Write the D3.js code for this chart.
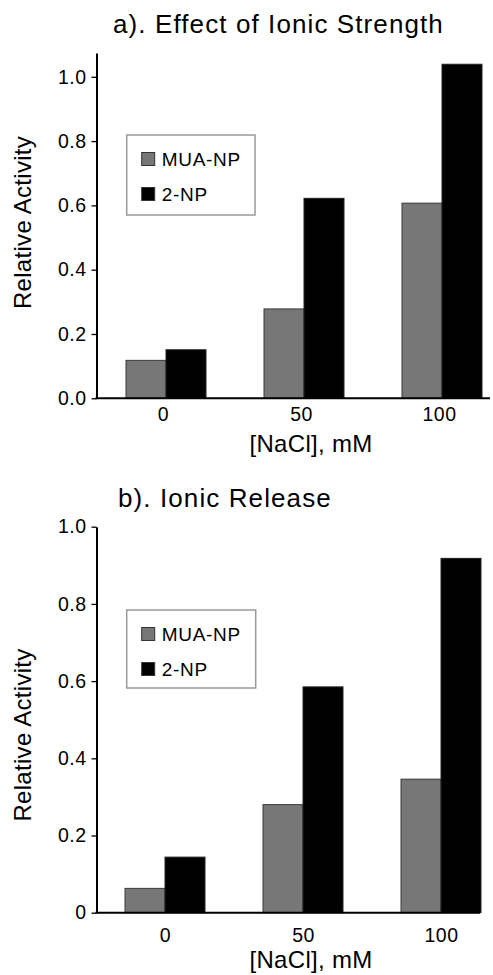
<!DOCTYPE html>
<html>
<head>
<meta charset="utf-8">
<style>
    body { margin: 0; background: #fff; }
    svg { display: block; font-family: "Liberation Sans", Arial, Helvetica, sans-serif; }
    .tick text { font-size: 19.5px; letter-spacing: 0.5px; fill: #000; }
</style>
</head>
<body>
<svg id="chart"></svg>
<script src="https://cdn.jsdelivr.net/npm/d3@7"></script>
<script>
    "use strict"
    const width = 493;
    const height = 975;

    // data
    const categories = ["0", "50", "100"];
    const seriesNames = ["MUA-NP", "2-NP"];
    const seriesColors = ["#777777", "#000000"];
    const muaStrength = [0.118, 0.278, 0.607];
    const twoStrength = [0.151, 0.622, 1.039];
    const muaRelease = [0.063, 0.28, 0.346];
    const twoRelease = [0.144, 0.585, 0.918];
    const yTickValues = [0, 0.2, 0.4, 0.6, 0.8, 1.0];
    const yTickLabelsA = ["0.0", "0.2", "0.4", "0.6", "0.8", "1.0"];
    const yTickLabelsB = ["0", "0.2", "0.4", "0.6", "0.8", "1.0"];
    const titles = ["a). Effect of Ionic Strength", "b). Ionic Release"];
    const xTitle = "[NaCl], mM";
    const yTitle = "Relative Activity";

    const svg = d3.select("#chart")
        .attr("width", width)
        .attr("height", height);

    const panels = [
        {
            title: titles[0], mua: muaStrength, two: twoStrength, labels: yTickLabelsA,
            yMax: 1.074, yRange: [398.3, 53], xRange: [166, 442], axisX: 96.5, axisEnd: 490,
            titleX: 113, titleY: 33, xTickY: 420.7, xTickDx: -3, xLabelY: 452,
            yLabelY: 222.5, legend: { x: 126.7, y: 135, w: 128.3, h: 80 }
        },
        {
            title: titles[1], mua: muaRelease, two: twoRelease, labels: yTickLabelsB,
            yMax: 1.0, yRange: [912.7, 526.7], xRange: [165, 441], axisX: 96.5, axisEnd: 480,
            titleX: 118, titleY: 507, xTickY: 941.7, xTickDx: 0, xLabelY: 968,
            yLabelY: 735, legend: { x: 126.7, y: 610, w: 129, h: 78 }
        }
    ];

    panels.forEach(drawPanel);

    function drawPanel(p) {
        const g = svg.append("g");

        const x = d3.scalePoint()
            .domain(categories)
            .range(p.xRange);

        const xSub = d3.scaleBand()
            .domain(seriesNames)
            .range([-40, 40]);

        const y = d3.scaleLinear()
            .domain([0, p.yMax])
            .range(p.yRange);

        const rows = categories.map((c, i) => ({ cat: c, values: [p.mua[i], p.two[i]] }));

        // bars
        const groups = g.selectAll(".group")
            .data(rows)
            .enter().append("g")
            .attr("class", "group")
            .attr("transform", d => `translate(${x(d.cat)},0)`);

        groups.selectAll("rect")
            .data(d => d.values.map((v, i) => ({ name: seriesNames[i], value: v, i })))
            .enter().append("rect")
            .attr("x", d => xSub(d.name))
            .attr("width", xSub.bandwidth())
            .attr("y", d => y(d.value))
            .attr("height", d => y(0) - y(d.value))
            .attr("fill", d => seriesColors[d.i])
            .attr("stroke", d => d.i === 0 ? "#3a3a3a" : "#222")
            .attr("stroke-width", 1);

        // y axis
        const yAxis = d3.axisLeft(y)
            .tickValues(yTickValues)
            .tickFormat((d, i) => p.labels[i])
            .tickSize(5)
            .tickSizeOuter(0)
            .tickPadding(5);

        const ya = g.append("g")
            .attr("transform", `translate(${p.axisX},0)`)
            .call(yAxis);
        ya.select(".domain").attr("stroke-width", 2);
        ya.selectAll(".tick line").attr("stroke-width", 1.3);

        // x axis: baseline plus category labels, no tick marks
        g.append("line")
            .attr("x1", p.axisX - 1)
            .attr("x2", p.axisEnd)
            .attr("y1", y(0))
            .attr("y2", y(0))
            .attr("stroke", "#000")
            .attr("stroke-width", 2);

        const xAxis = d3.axisBottom(x).tickSize(0).tickPadding(0);
        const xa = g.append("g")
            .attr("transform", `translate(${p.xTickDx},${p.xTickY})`)
            .call(xAxis);
        xa.select(".domain").remove();
        xa.selectAll(".tick text").attr("dy", 0);

        // titles
        g.append("text")
            .attr("x", p.titleX)
            .attr("y", p.titleY)
            .style("font-size", "26px")
            .style("letter-spacing", "1.1px")
            .text(p.title);

        g.append("text")
            .attr("x", 311)
            .attr("y", p.xLabelY)
            .attr("text-anchor", "middle")
            .style("font-size", "24px")
            .style("letter-spacing", "0.3px")
            .text(xTitle);

        g.append("text")
            .attr("transform", `translate(30.5,${p.yLabelY}) rotate(-90)`)
            .attr("text-anchor", "middle")
            .style("font-size", "24px")
            .style("letter-spacing", "0.3px")
            .text(yTitle);

        // legend
        const lg = g.append("g")
            .attr("transform", `translate(${p.legend.x},${p.legend.y})`);
        lg.append("rect")
            .attr("width", p.legend.w)
            .attr("height", p.legend.h)
            .attr("fill", "#fff")
            .attr("stroke", "#9a9a9a")
            .attr("stroke-width", 1.5);

        const items = lg.selectAll(".item")
            .data(seriesNames)
            .enter().append("g")
            .attr("class", "item")
            .attr("transform", (d, i) => `translate(15,${17.5 + i * 35})`);
        items.append("rect")
            .attr("width", 13)
            .attr("height", 13)
            .attr("fill", (d, i) => seriesColors[i])
            .attr("stroke", "#333")
            .attr("stroke-width", 1);
        items.append("text")
            .attr("x", 20)
            .attr("y", 13.5)
            .style("font-size", "19px")
            .style("letter-spacing", "0.7px")
            .text(d => d);
    }
</script>
</body>
</html>
